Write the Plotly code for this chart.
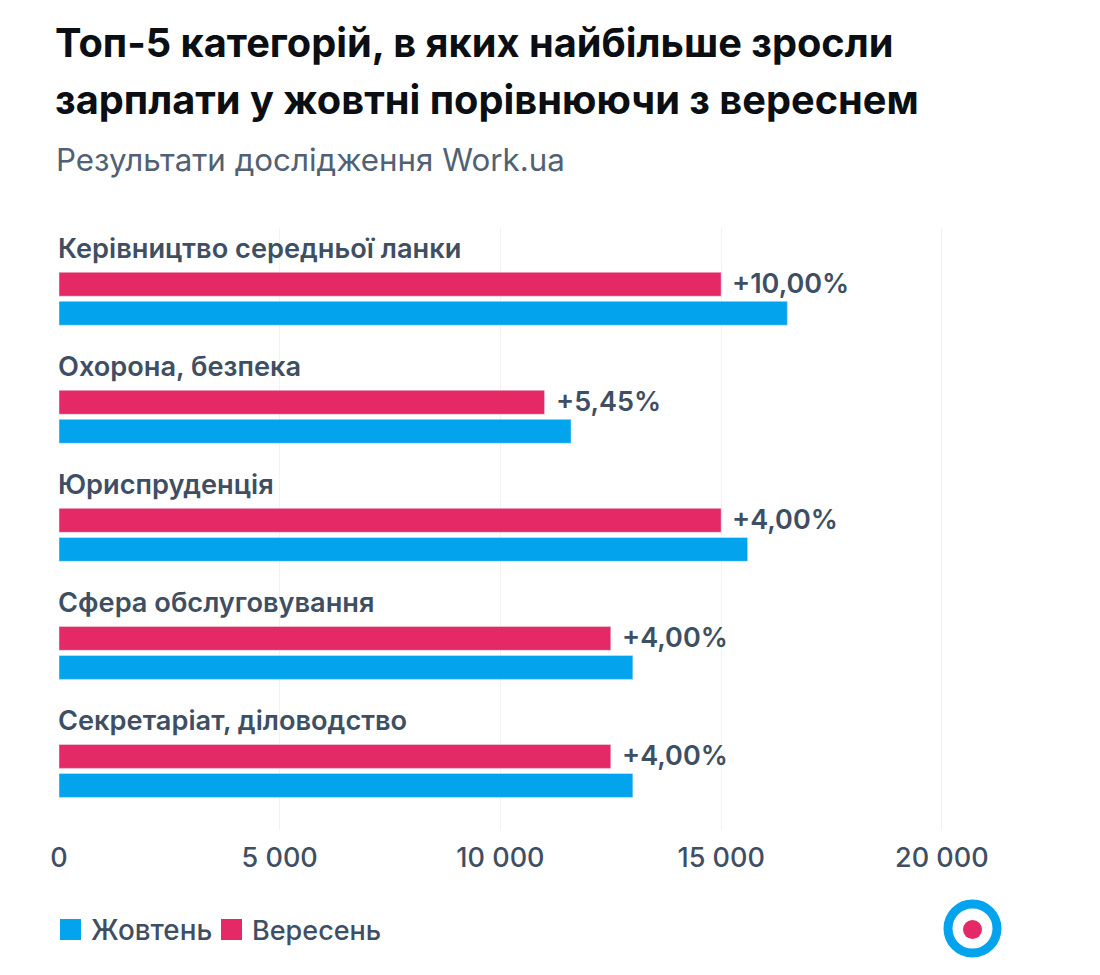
import plotly.graph_objects as go

categories = ["Керівництво середньої ланки", "Охорона, безпека", "Юриспруденція", "Сфера обслуговування", "Секретаріат, діловодство"]
september = [15000, 11000, 15000, 12500, 12500]
october = [16500, 11600, 15600, 13000, 13000]
changes = ["+10,00%", "+5,45%", "+4,00%", "+4,00%", "+4,00%"]
tick_values = [0, 5000, 10000, 15000, 20000]
tick_labels = ["0", "5 000", "10 000", "15 000", "20 000"]

FONT = "Inter"
DARK = "#3f4f63"
W, H = 1084, 959
L, T, R, B = 51, 220, 106, 137
BLUE, RED = "#04a3ee", "#e52866"

def px(x):
    return (x - 8 - L) / (W - L - R)
def py(y):
    return 1 - (y - 8 - T) / (H - T - B)

fig = go.Figure()
fig.add_bar(y=categories, x=september, name="Вересень", orientation="h", marker_color=RED,
            width=0.203, offset=-0.225, showlegend=False)
fig.add_bar(y=categories, x=october, name="Жовтень", orientation="h", marker_color=BLUE,
            width=0.203, offset=0.021, showlegend=False)

for c, v, ch in zip(categories, september, changes):
    fig.add_annotation(x=0, y=c, yshift=50, xref="x", yref="y", text=c, showarrow=False,
                       xanchor="left", xshift=-3, font=dict(family=FONT, size=27.2, color=DARK, weight=600))
    fig.add_annotation(x=v, y=c, yshift=15, xshift=9, xref="x", yref="y", text=ch, showarrow=False,
                       xanchor="left", font=dict(family=FONT, size=27, color=DARK, weight=600))

fig.update_layout(
    width=W, height=H, autosize=False, paper_bgcolor="white", plot_bgcolor="white",
    margin=dict(l=L, r=R, t=T, b=B), barmode="overlay", showlegend=False,
    xaxis=dict(range=[0, 21000], tickvals=tick_values, ticktext=tick_labels, showgrid=True, gridcolor="#f1f2f4",
               zeroline=False, tickfont=dict(family=FONT, size=27, color=DARK, weight=500),
               ticks="outside", ticklen=4, tickcolor="white"),
    yaxis=dict(range=[4.5, -0.6], showticklabels=False, showgrid=False, zeroline=False),
    font=dict(family=FONT),
)
title_lines = ["Топ-5 категорій, в яких найбільше зросли", "зарплати у жовтні порівнюючи з вереснем"]
for line, y in zip(title_lines, [42, 99]):
    fig.add_annotation(xref="paper", yref="paper", x=px(53), y=py(y), xanchor="left", yanchor="middle",
                       text=line, showarrow=False, font=dict(family=FONT, size=39.75, color="#0b0f14", weight=700))
fig.add_annotation(xref="paper", yref="paper", x=px(54), y=py(160), xanchor="left", yanchor="middle",
                   text="Результати дослідження Work.ua", showarrow=False,
                   font=dict(family=FONT, size=31.3, color="#516173"))
# legend
for x0, label, col, size in [(60, "Жовтень", BLUE, 27.8), (221, "Вересень", RED, 27)]:
    fig.add_shape(type="rect", xref="paper", yref="paper", x0=px(x0), x1=px(x0+21), y0=py(940), y1=py(919),
                  line=dict(width=0), fillcolor=col)
    fig.add_annotation(xref="paper", yref="paper", x=px(x0+29), y=py(930), xanchor="left", yanchor="middle",
                       text=label, showarrow=False, font=dict(family=FONT, size=size, color=DARK, weight=500))
# logo
fig.add_shape(type="circle", xref="paper", yref="paper", x0=px(948), x1=px(997), y0=py(953), y1=py(904),
              line=dict(color=BLUE, width=9), fillcolor="white")
fig.add_shape(type="circle", xref="paper", yref="paper", x0=px(963), x1=px(982), y0=py(939), y1=py(920),
              line=dict(width=0), fillcolor=RED)
fig.write_html("out.html")
